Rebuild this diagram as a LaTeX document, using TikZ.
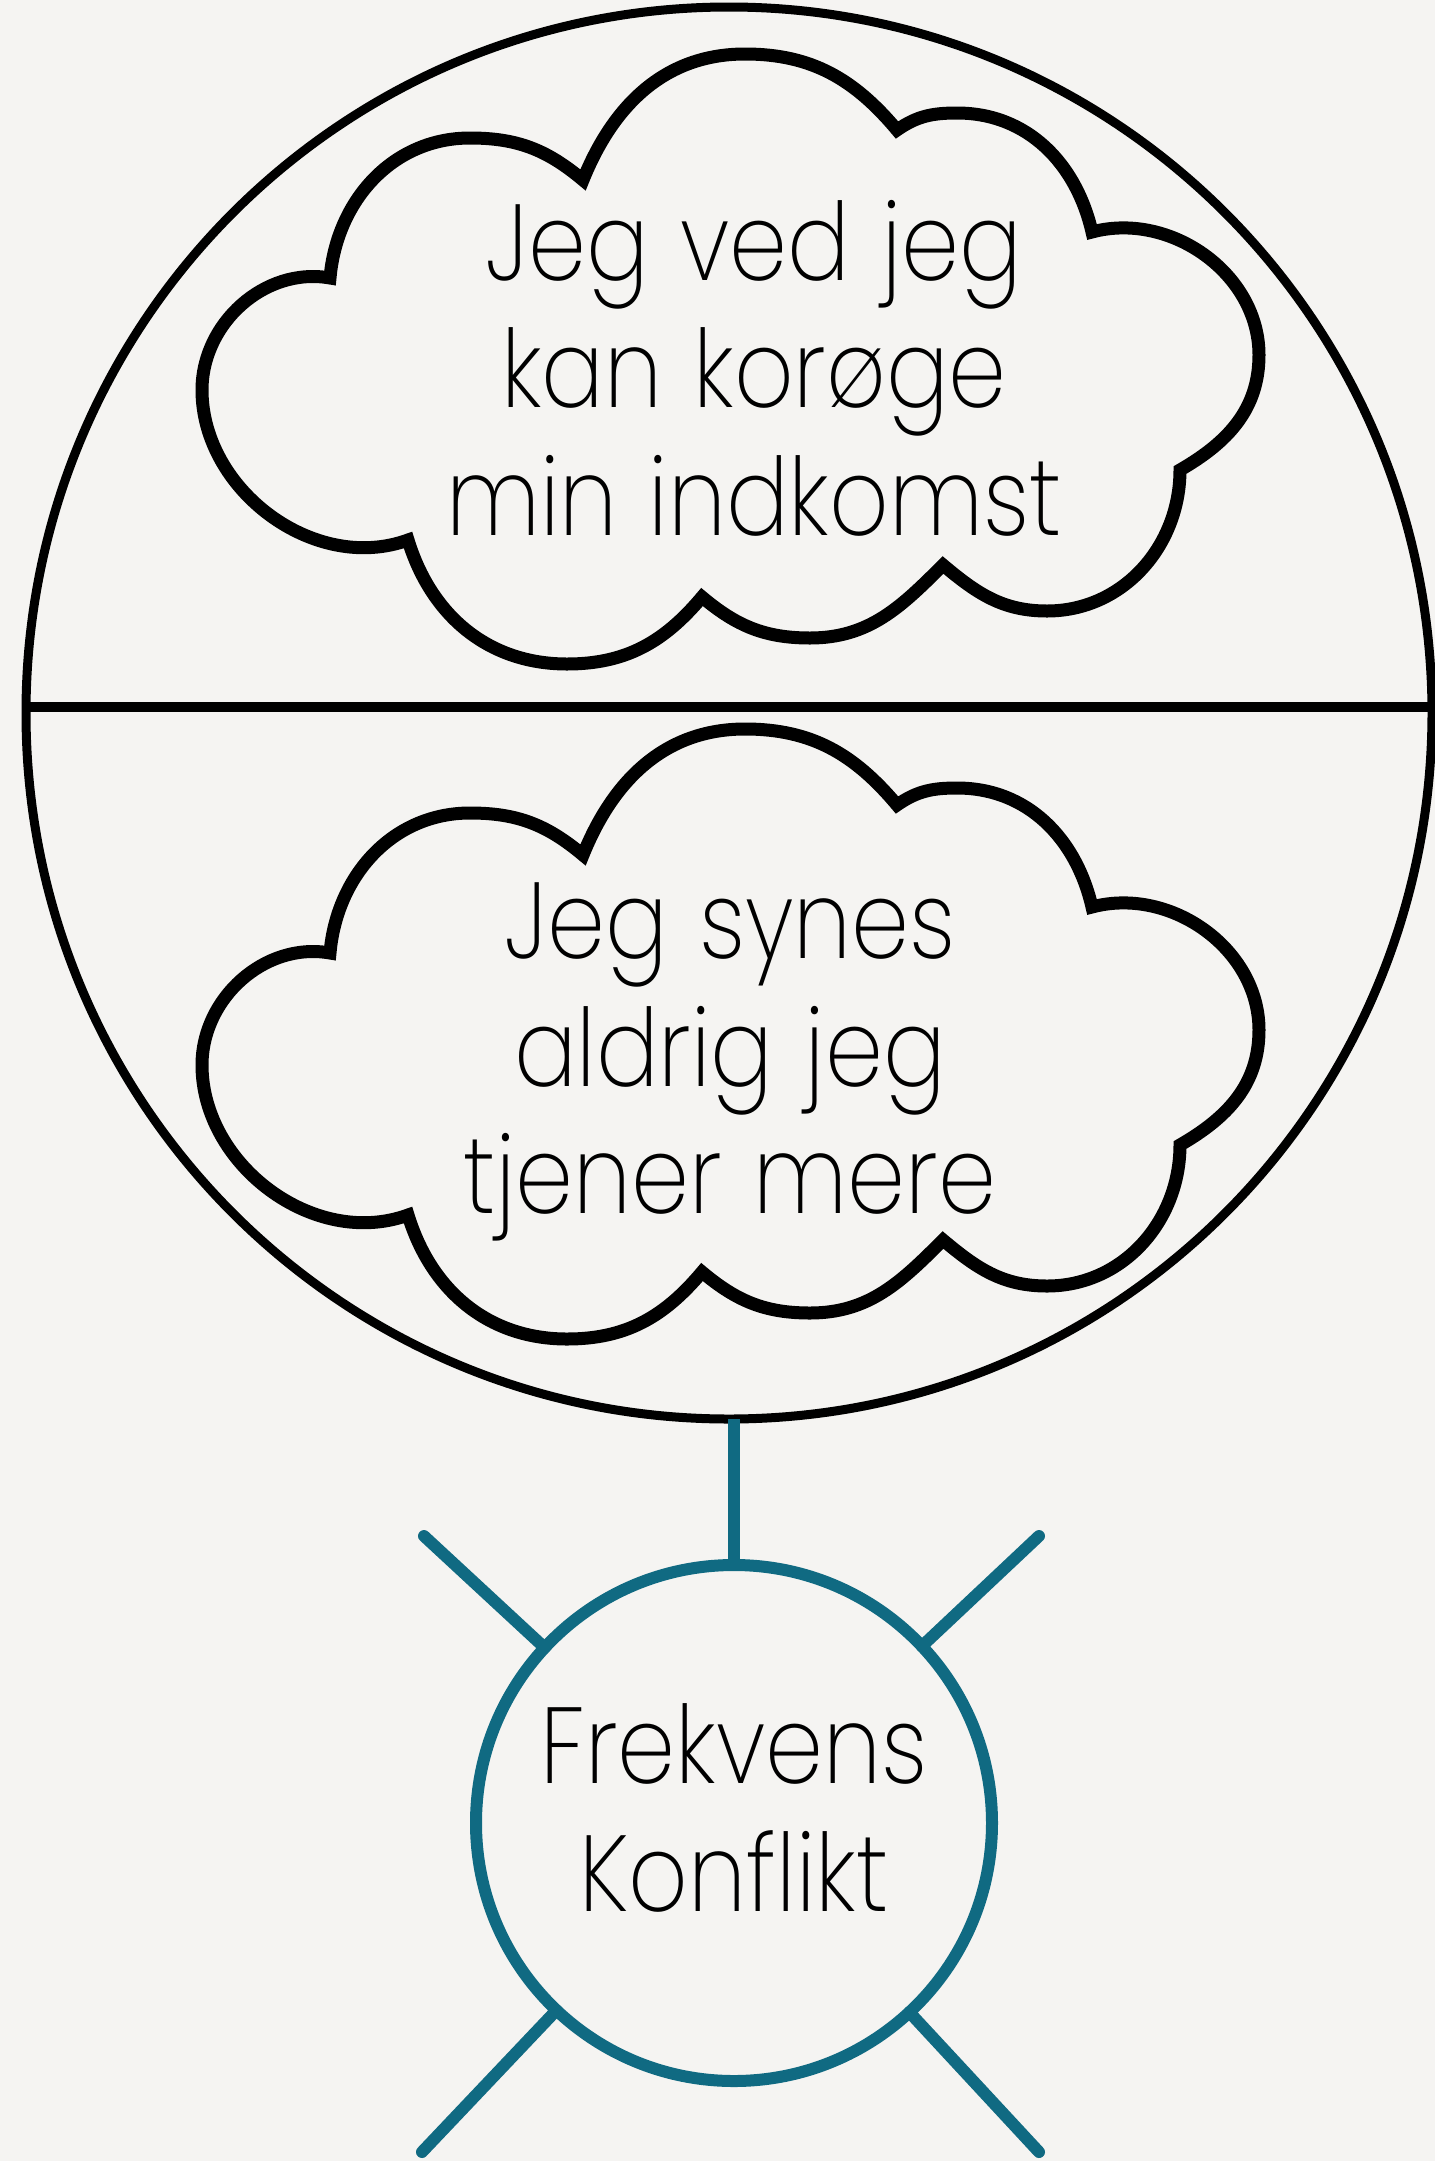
\documentclass[tikz,border=0pt]{standalone}
\usepackage{fontspec}
\usetikzlibrary{shapes.geometric}
\newfontfamily\pl{Poppins ExtraLight}[Ligatures=NoCommon, FakeStretch=0.86, WordSpace=1.2]
\definecolor{bgc}{RGB}{245,244,242}
\definecolor{tealc}{RGB}{16,106,130}
\tikzset{
  bigring/.style={draw=black, ellipse, line width=9pt, minimum width=1406pt, minimum height=1412pt, inner sep=0pt, outer sep=0pt},
  cloudline/.style={draw=black, line width=13pt, line join=miter},
  tealline/.style={draw=tealc, line width=12pt},
  ring/.style={draw=tealc, circle, line width=12pt, minimum size=516pt, inner sep=0pt, outer sep=0pt},
  txt/.style={align=center, inner sep=0pt, font=\pl\fontsize{108pt}{127.5pt}\selectfont}
}
\begin{document}
\begin{tikzpicture}[x=1pt,y=-1pt]
\useasboundingbox (0,0) rectangle (1435,2161);
\fill[bgc] (0,0) rectangle (1435,2161);
\node[bigring] (big) at (729,713) {};
\draw[line width=10pt] ([yshift=6pt]big.west) -- ([yshift=6pt]big.east);
\foreach \dy in {0,675}{
\begin{scope}[shift={(0,\dy)}]
\draw[cloudline]
 (330,278) to[out=85,in=180] (470,138) to[out=0,in=140] (583,180)
 to[out=68,in=180] (745,54) to[out=0,in=130] (897,130)
 to[out=35,in=180] (957,113) to[out=0,in=103] (1092,232)
 to[out=15,in=90] (1259,355) to[out=-90,in=30] (1180,470)
 to[out=-90,in=0] (1047,611) to[out=180,in=-40] (943,565)
 to[out=-135,in=0] (810,638) to[out=180,in=-40] (702,597)
 to[out=-130,in=0] (567,664) to[out=180,in=-73] (408,540)
 to[out=-160,in=-90] (202,390) to[out=90,in=170] (330,278)
 -- cycle;
\end{scope}
}
\node[txt] (upper) at (754,368) {Jeg ved jeg\\kan korøge\\min indkomst};
\node[txt] (lower) at (730,1062) {Jeg synes\\aldrig jeg\\tjener mere};
\node[ring] (fc) at (734,1823) {};
\node[txt] (ft) at (734,1808) {Frekvens\\Konflikt};
\draw[tealline] (fc.north) -- (fc.north |- big.south);
\coordinate (r1) at (424,1536);
\coordinate (r2) at (1039,1536);
\coordinate (r3) at (422,2152);
\coordinate (r4) at (1039,2152);
\foreach \r in {r1,r2,r3,r4}{\draw[tealline, line cap=round] (\r) -- (fc);}
\end{tikzpicture}
\end{document}
